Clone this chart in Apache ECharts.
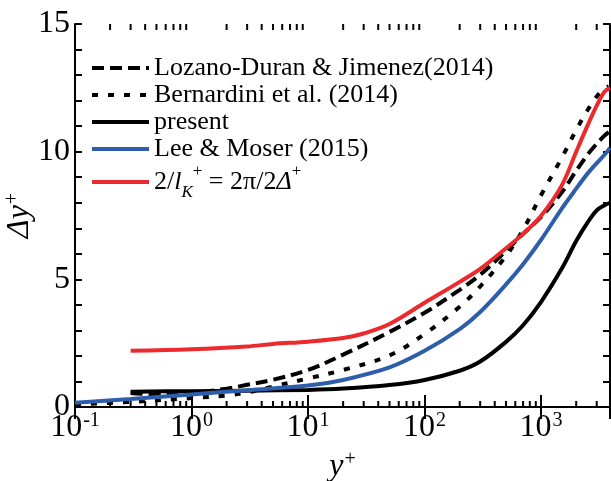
<!DOCTYPE html>
<html>
<head>
<meta charset="utf-8">
<script src="https://cdn.jsdelivr.net/npm/echarts@6/dist/echarts.min.js"></script>
<style>
  html,body{margin:0;padding:0;background:#fff;}
  #chart{width:611px;height:481px;}
</style>
</head>
<body>
<div id="chart"></div>
<script>
// 各曲线数据 [y+, Δy+]
var lozano=[[0.3,0.55],[0.5,0.5],[1,0.55],[2,0.72],[3,0.87],[5,1.07],[10,1.45],[20,2.05],[50,2.94],[100,3.69],[200,4.59],[300,5.18],[500,6.12],[700,6.78],[1000,7.45],[1500,8.4],[2000,9.25],[2500,9.88],[3000,10.31],[3500,10.63],[3900,10.8]];
var bernardini=[[0.1,0.1],[0.3,0.2],[1,0.35],[2,0.45],[3,0.57],[5,0.8],[10,1.12],[20,1.45],[50,2.02],[100,2.86],[200,3.93],[300,4.72],[500,5.92],[700,6.94],[1000,8.3],[1500,9.75],[2000,10.85],[2500,11.62],[3000,12.16],[3500,12.47],[3800,12.56]];
var present=[[0.3,0.6],[1,0.62],[3,0.64],[10,0.67],[20,0.72],[50,0.86],[100,1.06],[200,1.42],[300,1.78],[500,2.55],[700,3.2],[1000,4.12],[1500,5.41],[2000,6.5],[2500,7.22],[3000,7.7],[3500,7.9],[3900,8.0]];
var leeMoser=[[0.1,0.17],[0.3,0.31],[1,0.49],[3,0.66],[10,0.84],[20,1.06],[50,1.55],[100,2.2],[200,3.05],[300,3.72],[500,4.8],[700,5.59],[1000,6.55],[1500,7.76],[2000,8.55],[2500,9.14],[3000,9.55],[3500,9.88],[3900,10.15]];
var kolmo=[[0.3,2.2],[1,2.26],[3,2.37],[5,2.47],[10,2.56],[20,2.7],[30,2.88],[50,3.25],[100,4.08],[200,4.9],[300,5.41],[500,6.22],[700,6.78],[1000,7.49],[1500,8.67],[2000,10.0],[2500,11.02],[3000,11.8],[3500,12.35],[3900,12.5]];

var seriesNames=['Lozano-Duran & Jimenez(2014)','Bernardini et al. (2014)','present','Lee & Moser (2015)','2/lK+ = 2π/2Δ+'];
var yLabels=[0,5,10,15];
var xMin=0.1, xMax=3900;

// 对数轴小刻度 2..9 × 10^n
var minorTicks=[];
for(var e=-1;e<=3;e++){
  for(var k=2;k<=9;k++){
    var v=k*Math.pow(10,e);
    if(v<xMax) minorTicks.push([v,0]);
  }
}

var serif='Liberation Serif';
var supRich={
  b:{fontFamily:serif,fontSize:32,color:'#000',lineHeight:34},
  s:{fontFamily:serif,fontSize:20,color:'#000',lineHeight:34,verticalAlign:'top',padding:[0,0,0,1]},
  i:{fontFamily:serif,fontSize:32,fontStyle:'italic',color:'#000',lineHeight:34}
};

var chart=echarts.init(document.getElementById('chart'));
chart.setOption({
  animation:false,
  grid:{left:75,right:1,top:24,bottom:74,outerBoundsMode:'none',containLabel:false},
  legend:{
    orient:'vertical',
    left:85,
    top:50,
    itemWidth:57,
    itemHeight:14,
    itemGap:1,
    data:seriesNames,
    itemStyle:{opacity:0,color:'transparent',borderWidth:0},
    lineStyle:{width:4},
    formatter:function(name){
      if(name===seriesNames[4]){
        return '{n|2/}{i|l}{sub|K}{sup|+}{n| = 2π/2}{i|Δ}{sup|+}';
      }
      return '{n|'+name+'}';
    },
    textStyle:{
      fontFamily:serif,fontSize:26,color:'#000',lineHeight:26,
      rich:{
        n:{fontFamily:serif,fontSize:26,color:'#000',lineHeight:26},
        i:{fontFamily:serif,fontSize:26,fontStyle:'italic',color:'#000',lineHeight:26},
        sub:{fontFamily:serif,fontSize:17,fontStyle:'italic',color:'#000',lineHeight:26,verticalAlign:'bottom',padding:[0,0,-6,0]},
        sup:{fontFamily:serif,fontSize:17,color:'#000',lineHeight:26,verticalAlign:'top',padding:[-6,0,0,0]}
      }
    }
  },
  xAxis:[
    {
      type:'log',logBase:10,min:xMin,max:xMax,
      position:'bottom',
      name:'{i|y}{s|+}',nameLocation:'middle',nameGap:43,nameMoveOverlap:false,
      nameTextStyle:{rich:supRich},
      axisLine:{lineStyle:{color:'#000',width:2}},
      axisTick:{inside:true,length:12,lineStyle:{color:'#000',width:2}},
      axisLabel:{
        margin:4,
        showMaxLabel:false,
        formatter:function(v){
          var l=Math.log10(v), n=Math.round(l);
          if(Math.abs(l-n)>1e-6) return '';
          return '{b|10}{s|'+n+'}';
        },
        rich:supRich
      },
      splitLine:{show:false}
    },
    {
      type:'log',logBase:10,min:xMin,max:xMax,
      position:'top',
      axisLine:{lineStyle:{color:'#000',width:2}},
      axisTick:{inside:true,length:12,lineStyle:{color:'#000',width:2}},
      axisLabel:{show:false},
      splitLine:{show:false}
    }
  ],
  yAxis:[
    {
      type:'value',min:0,max:15,interval:1,
      name:'{i|Δy}{s|+}',nameLocation:'middle',nameGap:38,nameRotate:90,nameMoveOverlap:false,
      nameTextStyle:{rich:supRich},
      axisLine:{show:true,lineStyle:{color:'#000',width:2}},
      axisTick:{inside:true,length:7,lineStyle:{color:'#000',width:2}},
      axisLabel:{
        margin:5,
        formatter:function(v){return yLabels.indexOf(v)>=0?'{b|'+v+'}':'';},
        rich:supRich
      },
      splitLine:{show:false}
    },
    {
      type:'value',min:0,max:15,interval:1,
      position:'right',
      axisLine:{show:true,lineStyle:{color:'#000',width:2}},
      axisTick:{inside:true,length:7,lineStyle:{color:'#000',width:2}},
      axisLabel:{show:false},
      splitLine:{show:false}
    }
  ],
  series:[
    {name:seriesNames[0],type:'line',data:lozano,smooth:0.35,showSymbol:false,symbol:'none',
      lineStyle:{color:'#000',width:4,type:[12,6]},itemStyle:{color:'#000'}},
    {name:seriesNames[1],type:'line',data:bernardini,smooth:0.35,showSymbol:false,symbol:'none',
      lineStyle:{color:'#000',width:4,type:[6,10]},itemStyle:{color:'#000'}},
    {name:seriesNames[2],type:'line',data:present,smooth:0.35,showSymbol:false,symbol:'none',
      lineStyle:{color:'#000',width:4},itemStyle:{color:'#000'}},
    {name:seriesNames[3],type:'line',data:leeMoser,smooth:0.35,showSymbol:false,symbol:'none',
      lineStyle:{color:'#2e5eab',width:4},itemStyle:{color:'#2e5eab'}},
    {name:seriesNames[4],type:'line',data:kolmo,smooth:0.35,showSymbol:false,symbol:'none',
      lineStyle:{color:'#ec2a2e',width:4},itemStyle:{color:'#ec2a2e'}},
    {
      // 上下轴的小刻度
      type:'custom',silent:true,clip:false,data:minorTicks,
      renderItem:function(params,api){
        var b=api.coord([api.value(0),0]);
        var t=api.coord([api.value(0),15]);
        return {type:'group',children:[
          {type:'line',shape:{x1:b[0],y1:b[1],x2:b[0],y2:b[1]-6},style:{stroke:'#000',lineWidth:2}},
          {type:'line',shape:{x1:t[0],y1:t[1],x2:t[0],y2:t[1]+6},style:{stroke:'#000',lineWidth:2}}
        ]};
      }
    }
  ]
});
</script>
</body>
</html>
